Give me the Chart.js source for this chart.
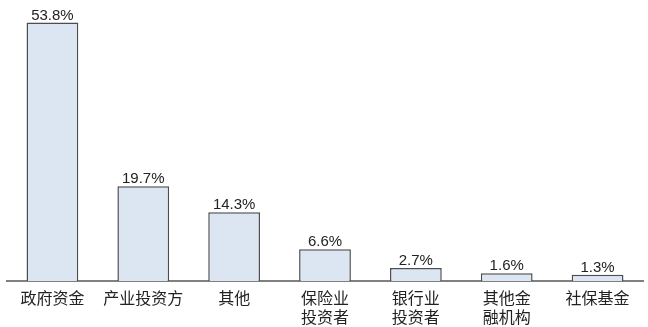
<!DOCTYPE html>
<html>
<head>
<meta charset="utf-8">
<script src="https://cdn.jsdelivr.net/npm/chart.js@4/dist/chart.umd.min.js"></script>
<style>
    html, body { margin: 0; padding: 0; background: #ffffff; }
    #wrap { width: 648px; height: 327px; }
</style>
</head>
<body>
<div id="wrap"><canvas id="investorChart"></canvas></div>
<script>
// ==========================
// 投资者结构 (%)
// ==========================

const categories = [
    "政府资金",
    "产业投资方",
    "其他",
    ["保险业", "投资者"],
    ["银行业", "投资者"],
    ["其他金", "融机构"],
    "社保基金"
];

const shares = [53.8, 19.7, 14.3, 6.6, 2.7, 1.6, 1.3];

const yMax = 58.5;


// 柱顶数值标签
const barLabels = {

    id: "barLabels",

    afterDatasetsDraw(chart) {

        const ctx = chart.ctx;
        const meta = chart.getDatasetMeta(0);

        ctx.save();
        ctx.font = "15px 'Liberation Sans', Arial, sans-serif";
        ctx.fillStyle = "#222222";
        ctx.textAlign = "center";
        ctx.textBaseline = "alphabetic";

        meta.data.forEach((bar, i) => {
            ctx.fillText(shares[i].toFixed(1) + "%", bar.x, bar.y - 3);
        });

        ctx.restore();

    }

};


new Chart(document.querySelector("#investorChart"), {

    type: "bar",

    data: {

        labels: categories,

        datasets: [{

            data: shares,

            backgroundColor: "#dce6f2",

            borderColor: "#4d4d4d",

            borderWidth: 1.5,

            borderSkipped: "bottom",

            barPercentage: 0.57,

            categoryPercentage: 1

        }]

    },

    options: {

        responsive: true,

        maintainAspectRatio: false,

        animation: false,

        layout: {
            padding: { left: 7, right: 5, top: 0, bottom: 0 }
        },

        plugins: {
            legend: { display: false },
            tooltip: { enabled: false }
        },

        scales: {

            x: {

                grid: { display: false },

                border: { display: true, color: "#808080", width: 2 },

                ticks: {
                    color: "#222222",
                    padding: -1,
                    maxRotation: 0,
                    autoSkip: false,
                    font: {
                        family: "'Noto Sans CJK SC', sans-serif",
                        size: 16,
                        lineHeight: 1.2
                    }
                },

                afterFit: (scale) => {
                    scale.height = 46;
                }

            },

            y: {

                display: false,

                min: 0,

                max: yMax

            }

        }

    },

    plugins: [barLabels]

});
</script>
</body>
</html>
